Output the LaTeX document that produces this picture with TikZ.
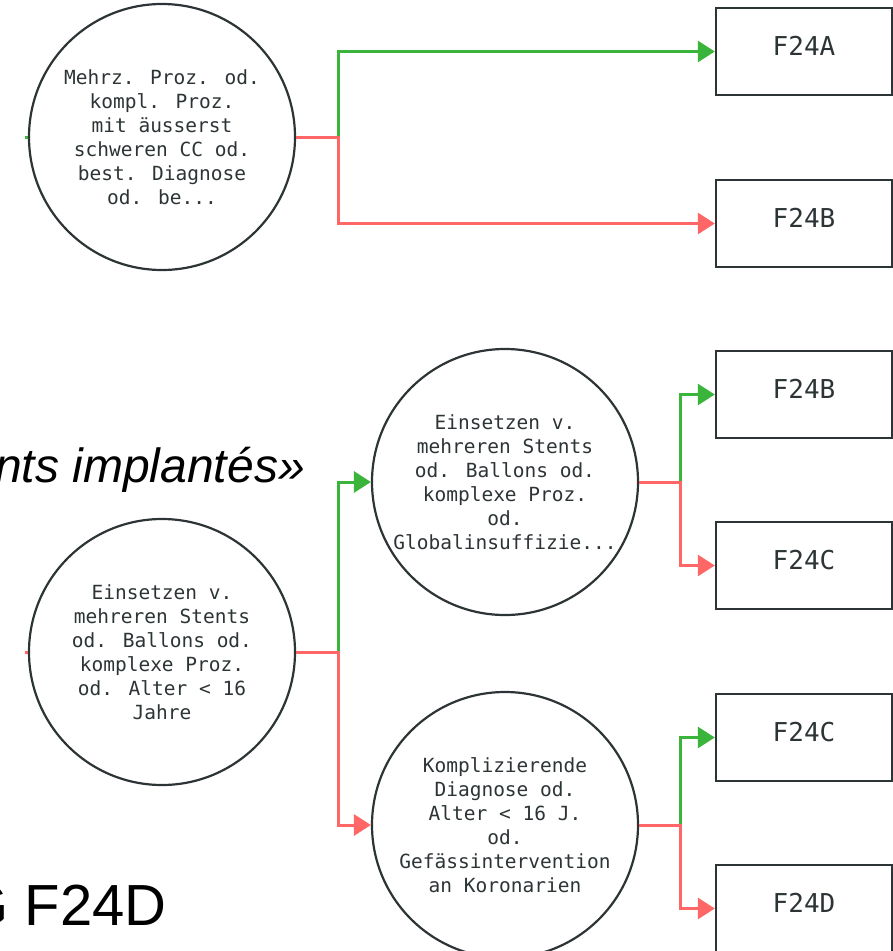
\documentclass[tikz,border=0pt]{standalone}
\usepackage{fontspec}
\usepackage{tikz}
\usetikzlibrary{positioning,arrows.meta,calc}
\setmainfont{Liberation Sans}
\newfontfamily\treemono{DejaVu Sans Mono}
\definecolor{inkgray}{RGB}{45,52,54}
\definecolor{yesgreen}{RGB}{58,180,58}
\definecolor{nored}{RGB}{255,102,102}
\tikzset{
  query/.style={draw=inkgray, line width=2.2pt, circle, minimum size=266pt,
    inner sep=0pt},
  qtext/.style={align=center, text=inkgray, inner sep=0pt,
    font=\treemono\fontsize{19.5}{24}\selectfont},
  drg/.style={draw=inkgray, line width=2.4pt, rectangle, minimum width=176pt,
    inner xsep=0pt, inner ysep=0pt, text height=47pt, text depth=40pt,
    text=inkgray, font=\treemono\fontsize{26}{30}\selectfont},
  yes/.style={-{Triangle[length=17pt, width=21pt]}, line width=3pt, draw=yesgreen},
  no/.style={-{Triangle[length=17pt, width=21pt]}, line width=3pt, draw=nored},
  slide/.style={inner sep=0pt, text=black},
}
\begin{document}
\begin{tikzpicture}[x=1pt,y=-1pt]
\useasboundingbox (0,0) rectangle (893,951);
% slide text behind the tree, cut by the page edge
\node[slide, anchor=base east, font=\fontsize{48}{54}\selectfont\itshape] (frag1) at (305,482) {ents implantés»};
\node[slide, anchor=base east, font=\fontsize{58}{64}\selectfont] (frag2) at (167,925) {G F24D};
% decision circles
\node[query] (q1) at (162,137) {};
\node[qtext] (t1) at (q1) {Mehrz. Proz. od.\\kompl. Proz.\\mit äusserst\\schweren CC od.\\best. Diagnose\\od. be...};
\node[query] (q2) at (505,482) {};
\node[qtext] (t2) at (q2) {Einsetzen v.\\mehreren Stents\\od. Ballons od.\\komplexe Proz.\\od.\\Globalinsuffizie...};
\node[query] (q3) at (162,652) {};
\node[qtext] (t3) at (q3) {Einsetzen v.\\mehreren Stents\\od. Ballons od.\\komplexe Proz.\\od. Alter < 16\\Jahre};
\node[query] (q4) at (505,825) {};
\node[qtext] (t4) at (q4) {Komplizierende\\Diagnose od.\\Alter < 16 J.\\od.\\Gefässintervention\\an Koronarien};
% result boxes
\node[drg] (f24a) at (804,51.5) {F24A};
\node[drg] (f24b) at (804,223.5) {F24B};
\node[drg] (f24b2) at (804,394.5) {F24B};
\node[drg] (f24c) at (804,565.5) {F24C};
\node[drg] (f24c2) at (804,737.5) {F24C};
\node[drg] (f24d) at (804,908.5) {F24D};
% branch points
\coordinate (j1) at (338,137);
\coordinate (j2) at (680,482);
\coordinate (j3) at (338,652);
\coordinate (j4) at (680,825);
\coordinate (in1) at ([xshift=-3pt]q1.west);
\coordinate (in3) at ([xshift=-3pt]q3.west);
\draw[yesgreen, line width=3pt] (in1) -- (q1.west);
\draw[nored, line width=3pt] (in3) -- (q3.west);
\draw[yes] (j1) |- (f24a.west);
\draw[no] (q1.east) -- (j1) |- (f24b.west);
\draw[yes] (j2) |- (f24b2.west);
\draw[no] (q2.east) -- (j2) |- (f24c.west);
\draw[yes] (j3) |- (q2.west);
\draw[no] (q3.east) -- (j3) |- (q4.west);
\draw[yes] (j4) |- (f24c2.west);
\draw[no] (q4.east) -- (j4) |- (f24d.west);
\end{tikzpicture}
\end{document}
